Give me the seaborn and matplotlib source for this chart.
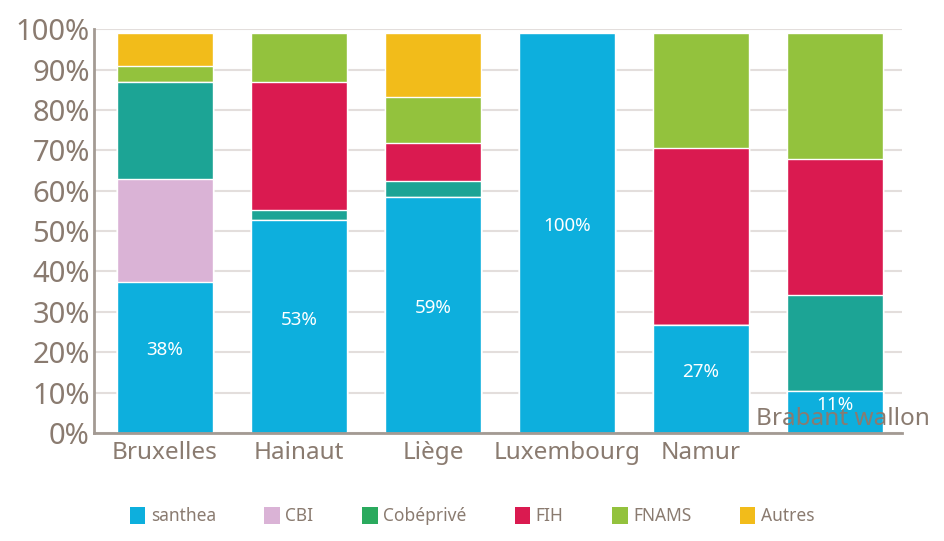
import numpy as np
import pandas as pd
import seaborn as sns
import matplotlib.pyplot as plt
from matplotlib.patches import Patch
from matplotlib.transforms import ScaledTranslation

sns.set_theme(style="white")
plt.rcParams['font.family'] = ['Noto Sans', 'DejaVu Sans']

regions = ["Bruxelles", "Hainaut", "Liège", "Luxembourg", "Namur", "Brabant wallon"]
orgs = ["santhea", "CBI", "Cobéprivé", "FIH", "FNAMS", "Autres"]

santhea = [37.5, 52.7, 58.5, 99.0, 26.7, 10.5]
cbi = [25.5, 0, 0, 0, 0, 0]
cobeprive = [24.0, 2.5, 3.9, 0, 0, 23.7]
fih = [0, 31.8, 9.3, 0, 43.8, 33.6]
fnams = [4.0, 12.0, 11.4, 0, 28.5, 31.2]
autres = [8.0, 0, 15.9, 0, 0, 0]
santhea_labels = ["38%", "53%", "59%", "100%", "27%", "11%"]

bar_colors = ["#0DAFDD", "#DAB3D6", "#1CA495", "#DA1A50", "#93C23D", "#F2BC1A"]
legend_colors = ["#0DAFDD", "#DAB3D6", "#2AAA5E", "#DA1A50", "#93C23D", "#F2BC1A"]
text_color = "#8A7B70"

df = pd.DataFrame({"region": regions, "santhea": santhea, "CBI": cbi,
                   "Cobéprivé": cobeprive, "FIH": fih, "FNAMS": fnams, "Autres": autres})
cum = df[orgs].cumsum(axis=1)

fig = plt.figure(figsize=(9.44, 5.41), dpi=100)
ax = fig.add_axes([0.0996, 0.1996, 0.856, 0.7464])

# draw cumulative totals from the top layer down so each layer covers the next
for org, col in zip(orgs[::-1], bar_colors[::-1]):
    sns.barplot(x=df["region"], y=cum[org], color=col, width=0.72,
                saturation=1, ax=ax, zorder=2)

ax.bar_label(ax.containers[-1], labels=santhea_labels, label_type="center",
             color="white", fontsize=13.5)
for t in ax.texts:
    t.xyann = (0, 5)

ax.set_ylim(0, 100)
ax.set_xlim(-0.53, 5.5)
ax.set_yticks(np.arange(0, 101, 10))
ax.set_yticklabels([f"{v}%" for v in range(0, 101, 10)])
# gridlines drawn by hand so the tick labels can stay above the bars
for v in ax.get_yticks():
    ax.axhline(v, color="#E3DEDC", linewidth=1.5, zorder=0)
ax.set_axisbelow(False)
ax.xaxis.set_zorder(5)
ax.set_xlabel("")
ax.set_ylabel("")
ax.tick_params(axis="y", labelsize=21, labelcolor=text_color, length=0, pad=3)
ax.tick_params(axis="x", labelsize=17.5, labelcolor=text_color, length=0, pad=6)

for s in ["top", "right"]:
    ax.spines[s].set_visible(False)
for s in ["left", "bottom"]:
    ax.spines[s].set_color("#A39A93")
    ax.spines[s].set_linewidth(2)

# the last category label sits up inside the plot in the original
last = ax.get_xticklabels()[-1]
last.set_transform(last.get_transform() + ScaledTranslation(0.08, 0.34, fig.dpi_scale_trans))

handles = [Patch(facecolor=c, edgecolor="none") for c in legend_colors]
leg = fig.legend(handles, orgs, loc="lower center", bbox_to_anchor=(0.5, 0.0),
                 ncol=6, frameon=False, fontsize=12.5, handlelength=0.9,
                 handleheight=1.1, handletextpad=0.3, columnspacing=2.8)
for t in leg.get_texts():
    t.set_color(text_color)

fig.savefig("out.png", dpi=100)
